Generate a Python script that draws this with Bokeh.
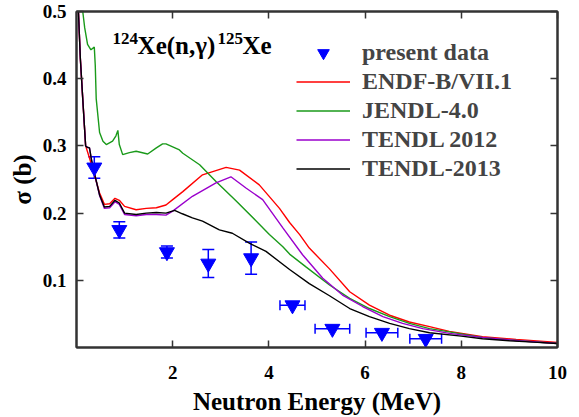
from bokeh.plotting import figure
from bokeh.models import (ColumnDataSource, FixedTicker, LinearAxis, Legend, LegendItem,
                          Label, Range1d, Whisker, TeeHead)
from bokeh.embed import file_html
from bokeh.resources import INLINE

# ---------------- data ----------------
x_ticks = [2, 4, 6, 8, 10]
y_ticks = [0.1, 0.2, 0.3, 0.4, 0.5]

# present data
exp_E = [0.37, 0.89, 1.88, 2.74, 3.63, 4.49, 5.32, 6.35, 7.26]
exp_sig = [0.268, 0.175, 0.142, 0.125, 0.133, 0.063, 0.028, 0.022, 0.013]
exp_dsig = [0.016, 0.012, 0.009, 0.021, 0.024, 0.0, 0.0, 0.0, 0.0]
exp_dE = [0.0, 0.0, 0.0, 0.0, 0.0, 0.26, 0.36, 0.33, 0.33]

# ENDF-B/VII.1
endf_E = [0.04, 0.08, 0.13, 0.19, 0.27, 0.34, 0.48, 0.58, 0.69, 0.80, 0.89, 1.0, 1.24, 1.45,
          1.66, 1.86, 2.0, 2.21, 2.62, 3.11, 3.39, 3.8, 4.22, 4.43, 4.64, 4.84, 5.26, 5.68,
          6.09, 6.51, 6.92, 7.34, 7.75, 8.44, 9.14, 10.0]
endf_sig = [0.5, 0.43, 0.37, 0.30, 0.282, 0.265, 0.23, 0.213, 0.214, 0.222, 0.219, 0.210,
            0.205, 0.207, 0.208, 0.212, 0.220, 0.232, 0.257, 0.268, 0.264, 0.242, 0.207,
            0.186, 0.168, 0.148, 0.117, 0.083, 0.063, 0.048, 0.038, 0.031, 0.024, 0.016,
            0.012, 0.0075]

# JENDL-4.0
jendl_E = [0.11, 0.13, 0.17, 0.23, 0.30, 0.37, 0.39, 0.41, 0.48, 0.55, 0.62, 0.75, 0.82, 0.86,
           0.89, 0.96, 1.1, 1.24, 1.48, 1.66, 1.79, 1.86, 2.14, 2.21, 2.56, 2.9, 3.32, 3.74,
           4.01, 4.29, 4.43, 4.77, 5.26, 5.68, 6.09, 6.51, 6.92, 7.34, 8.44, 9.2, 10.0]
jendl_sig = [0.53, 0.50, 0.476, 0.451, 0.443, 0.447, 0.42, 0.37, 0.32, 0.307, 0.302, 0.307,
             0.315, 0.323, 0.302, 0.287, 0.290, 0.292, 0.288, 0.297, 0.303, 0.303, 0.294,
             0.289, 0.272, 0.247, 0.218, 0.188, 0.168, 0.150, 0.139, 0.120, 0.093, 0.073,
             0.058, 0.046, 0.036, 0.028, 0.015, 0.010, 0.006]

# TENDL 2012
t12_E = [0.04, 0.08, 0.13, 0.19, 0.22, 0.27, 0.31, 0.37, 0.48, 0.58, 0.69, 0.80, 0.89, 1.0,
         1.24, 1.45, 1.66, 1.86, 2.0, 2.41, 2.9, 3.21, 3.53, 3.87, 4.29, 4.7, 5.12, 5.53,
         5.95, 6.37, 6.78, 7.2, 7.75, 8.44, 9.2, 10.0]
t12_sig = [0.5, 0.43, 0.37, 0.30, 0.298, 0.297, 0.28, 0.26, 0.226, 0.207, 0.208, 0.217,
           0.213, 0.198, 0.196, 0.198, 0.198, 0.197, 0.203, 0.225, 0.245, 0.254, 0.237,
           0.220, 0.178, 0.138, 0.103, 0.078, 0.061, 0.046, 0.036, 0.028, 0.021, 0.015,
           0.010, 0.006]

# TENDL-2013
t13_E = [0.04, 0.08, 0.13, 0.19, 0.22, 0.27, 0.31, 0.37, 0.48, 0.58, 0.69, 0.80, 0.89, 1.0,
         1.24, 1.45, 1.66, 1.86, 2.04, 2.2, 2.41, 2.62, 2.97, 3.24, 3.6, 3.94, 4.43, 4.84,
         5.26, 5.68, 6.09, 6.51, 6.92, 7.34, 8.0, 8.44, 9.0, 9.5, 10.0]
t13_sig = [0.5, 0.43, 0.37, 0.30, 0.298, 0.297, 0.28, 0.26, 0.227, 0.209, 0.210, 0.219,
           0.215, 0.200, 0.198, 0.200, 0.201, 0.200, 0.204, 0.199, 0.193, 0.188, 0.175,
           0.170, 0.155, 0.143, 0.116, 0.095, 0.077, 0.058, 0.046, 0.036, 0.028, 0.022,
           0.017, 0.013, 0.010, 0.008, 0.006]

series = [
    ("ENDF-B/VII.1", endf_E, endf_sig, "#ff0000"),
    ("JENDL-4.0", jendl_E, jendl_sig, "#1a9a1a"),
    ("TENDL 2012", t12_E, t12_sig, "#9a00cc"),
    ("TENDL-2013", t13_E, t13_sig, "#000000"),
]

FONT = "Liberation Serif"
AX = "#333333"

p = figure(frame_width=481, frame_height=336, x_range=Range1d(0, 10), y_range=Range1d(0, 0.5),
           output_backend="svg", toolbar_location=None,
           min_border_left=76, min_border_top=11, min_border_right=12, min_border_bottom=5)
p.xgrid.visible = False
p.ygrid.visible = False
p.outline_line_color = AX
p.outline_line_width = 2
p.background_fill_color = "white"

for ax in (p.xaxis[0], p.yaxis[0]):
    ax.major_tick_in = 7
    ax.major_tick_out = 0
    ax.minor_tick_line_color = None
    ax.axis_line_color = AX
    ax.axis_line_width = 2
    ax.major_tick_line_color = AX
    ax.major_tick_line_width = 1.5
    ax.major_label_text_font = FONT
    ax.major_label_text_font_style = "bold"
    ax.major_label_text_font_size = "19px"
    ax.major_label_text_color = "black"
    ax.axis_label_text_font = FONT
    ax.axis_label_text_font_style = "bold"
    ax.axis_label_text_color = "black"

p.xaxis[0].ticker = FixedTicker(ticks=x_ticks)
p.yaxis[0].ticker = FixedTicker(ticks=y_ticks)
p.xaxis[0].axis_label = "Neutron Energy (MeV)"
p.xaxis[0].axis_label_text_font_size = "25px"
p.xaxis[0].major_label_standoff = 18
p.xaxis[0].axis_label_standoff = 6
p.yaxis[0].axis_label = "σ (b)"
p.yaxis[0].axis_label_text_font_size = "25px"
p.yaxis[0].major_label_standoff = 10
p.yaxis[0].axis_label_standoff = 4

for loc, ticks in (("above", x_ticks), ("right", y_ticks)):
    ax = LinearAxis(ticker=FixedTicker(ticks=ticks), major_tick_in=7, major_tick_out=0,
                    minor_tick_line_color=None, axis_line_color=AX, axis_line_width=2,
                    major_tick_line_color=AX, major_tick_line_width=1.5,
                    major_label_overrides={t: "" for t in ticks},
                    major_label_text_font_size="1px", major_label_standoff=0)
    p.add_layout(ax, loc)

# curves
line_renderers = []
for name, E, s, c in series:
    r = p.line(E, s, line_color=c, line_width=1.4)
    line_renderers.append((name, r))

# error bars
ysrc = ColumnDataSource(dict(
    x=[e for e, d in zip(exp_E, exp_dsig) if d > 0],
    lo=[s - d for s, d in zip(exp_sig, exp_dsig) if d > 0],
    hi=[s + d for s, d in zip(exp_sig, exp_dsig) if d > 0]))
xsrc = ColumnDataSource(dict(
    y=[s for s, d in zip(exp_sig, exp_dE) if d > 0],
    lo=[e - d for e, d in zip(exp_E, exp_dE) if d > 0],
    hi=[e + d for e, d in zip(exp_E, exp_dE) if d > 0]))
p.add_layout(Whisker(source=ysrc, base="x", lower="lo", upper="hi", dimension="height",
                     line_color="#0000ff", line_width=1.5,
                     lower_head=TeeHead(size=12, line_color="#0000ff", line_width=1.5),
                     upper_head=TeeHead(size=12, line_color="#0000ff", line_width=1.5)))
p.add_layout(Whisker(source=xsrc, base="y", lower="lo", upper="hi", dimension="width",
                     line_color="#0000ff", line_width=1.5,
                     lower_head=TeeHead(size=10, line_color="#0000ff", line_width=1.5),
                     upper_head=TeeHead(size=10, line_color="#0000ff", line_width=1.5)))
sc = p.scatter(exp_E, exp_sig, marker="inverted_triangle", size=15,
               fill_color="#0000ff", line_color="#0000ff")

items = [LegendItem(label="present data", renderers=[sc])]
for name, r in line_renderers:
    items.append(LegendItem(label=name, renderers=[r]))

legend = Legend(items=items, location=(220, 164), glyph_width=54, glyph_height=29,
                label_height=29, spacing=0, padding=0, margin=0,
                border_line_color=None, background_fill_alpha=0,
                label_text_font=FONT, label_text_font_style="bold",
                label_text_font_size="24px", label_standoff=12)
p.add_layout(legend)

# reaction label
lab_kw = dict(text_font=FONT, text_font_style="bold", text_color="black",
              text_baseline="alphabetic")
p.add_layout(Label(x=0.75, y=0.460, text="124", text_font_size="17px", **lab_kw))
p.add_layout(Label(x=1.27, y=0.449, text="Xe(n,γ)", text_font_size="25px", **lab_kw))
p.add_layout(Label(x=2.93, y=0.460, text="125", text_font_size="17px", **lab_kw))
p.add_layout(Label(x=3.45, y=0.449, text="Xe", text_font_size="25px", **lab_kw))

open("out.html", "w").write(file_html(p, INLINE))
